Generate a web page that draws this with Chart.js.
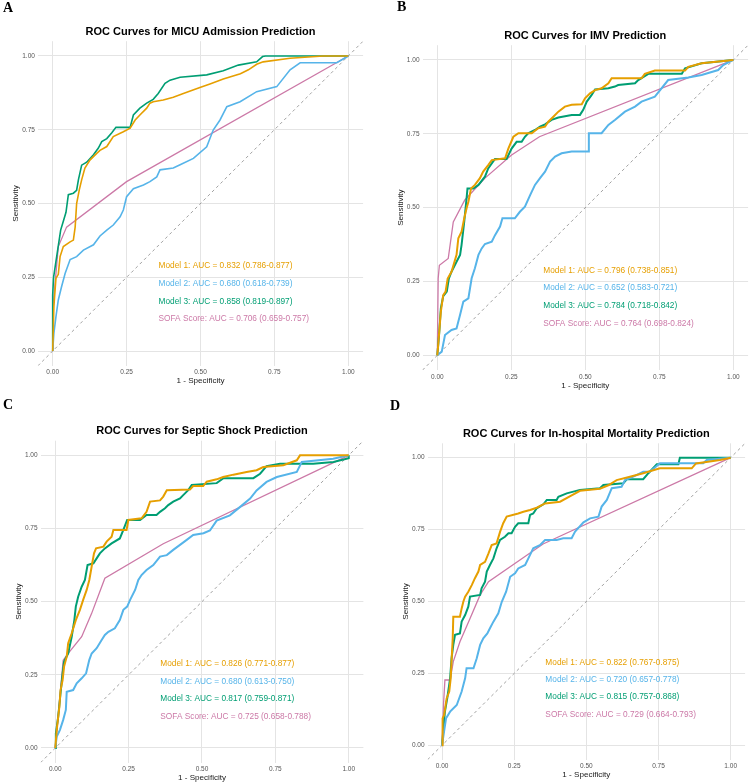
<!DOCTYPE html>
<html>
<head>
<meta charset="utf-8">
<script src="https://cdn.jsdelivr.net/npm/chart.js@4.4.1/dist/chart.umd.min.js"></script>
<style>
  html, body { margin: 0; padding: 0; background: #fff; }
  #wrap { position: relative; width: 750px; height: 784px; background: #fff; }
  #wrap canvas { position: absolute; }
</style>
</head>
<body>
<div id="wrap">
  <canvas id="panelA" width="375" height="392" style="left:0;top:0"></canvas>
  <canvas id="panelB" width="375" height="392" style="left:375px;top:0"></canvas>
  <canvas id="panelC" width="375" height="392" style="left:0;top:392px"></canvas>
  <canvas id="panelD" width="375" height="392" style="left:375px;top:392px"></canvas>
</div>
<script>
// axis ticks shared by every panel
const tickValues = [0, 0.25, 0.5, 0.75, 1];
const tickLabels = ['0.00', '0.25', '0.50', '0.75', '1.00'];

const seriesNames = ['Model 1', 'Model 2', 'Model 3', 'SOFA Score'];
const seriesColors = ['#E69F00', '#56B4E9', '#009E73', '#CC79A7'];

// --- A: MICU admission  ([1 - specificity, sensitivity]) ---
const micuModel1 = [[0,0],[0.004,0.15],[0.011,0.246],[0.019,0.26],[0.025,0.32],[0.036,0.354],[0.059,0.37],[0.07,0.376],[0.076,0.42],[0.081,0.50],[0.09,0.546],[0.098,0.58],[0.109,0.62],[0.126,0.647],[0.149,0.67],[0.16,0.68],[0.183,0.693],[0.205,0.727],[0.239,0.743],[0.262,0.755],[0.279,0.783],[0.295,0.80],[0.318,0.823],[0.329,0.84],[0.34,0.845],[0.374,0.851],[0.408,0.86],[0.442,0.873],[0.498,0.893],[0.532,0.905],[0.577,0.922],[0.635,0.94],[0.662,0.953],[0.69,0.972],[0.712,0.98],[0.803,0.992],[0.915,1],[1,1]];
const micuModel2 = [[0,0],[0.004,0.06],[0.011,0.116],[0.019,0.173],[0.03,0.218],[0.042,0.263],[0.059,0.31],[0.081,0.32],[0.104,0.342],[0.138,0.36],[0.16,0.39],[0.183,0.41],[0.205,0.427],[0.228,0.455],[0.239,0.478],[0.25,0.523],[0.273,0.55],[0.307,0.563],[0.329,0.574],[0.352,0.59],[0.363,0.614],[0.408,0.62],[0.431,0.631],[0.476,0.653],[0.521,0.692],[0.543,0.749],[0.566,0.783],[0.589,0.828],[0.634,0.845],[0.69,0.879],[0.758,0.896],[0.803,0.953],[0.837,0.977],[0.961,0.977],[1,1]];
const micuModel3 = [[0,0],[0,0.19],[0.003,0.25],[0.0135,0.32],[0.027,0.41],[0.036,0.44],[0.045,0.47],[0.053,0.53],[0.07,0.535],[0.081,0.545],[0.087,0.58],[0.098,0.63],[0.115,0.64],[0.138,0.665],[0.154,0.687],[0.166,0.71],[0.183,0.72],[0.2,0.74],[0.214,0.758],[0.262,0.758],[0.273,0.80],[0.295,0.823],[0.318,0.84],[0.34,0.853],[0.357,0.873],[0.38,0.907],[0.397,0.918],[0.431,0.928],[0.521,0.936],[0.577,0.95],[0.628,0.969],[0.69,0.98],[0.71,0.998],[0.72,1],[1,1]];
const micuSofa = [[0,0],[0.003,0.17],[0.019,0.354],[0.047,0.42],[0.25,0.574],[1,1]];
const micuAuc = [0.832, 0.680, 0.858, 0.706];
const micuLow = [0.786, 0.618, 0.819, 0.659];
const micuHigh = [0.877, 0.739, 0.897, 0.757];

// --- B: IMV ---
const imvModel1 = [[0,0],[0.003,0.035],[0.012,0.148],[0.02,0.204],[0.028,0.216],[0.035,0.26],[0.048,0.283],[0.065,0.34],[0.071,0.396],[0.082,0.419],[0.091,0.464],[0.099,0.498],[0.105,0.52],[0.114,0.565],[0.127,0.577],[0.144,0.6],[0.155,0.622],[0.172,0.644],[0.184,0.661],[0.229,0.667],[0.24,0.70],[0.257,0.74],[0.274,0.752],[0.319,0.752],[0.341,0.769],[0.364,0.774],[0.375,0.791],[0.392,0.808],[0.409,0.825],[0.431,0.842],[0.454,0.848],[0.488,0.85],[0.499,0.87],[0.516,0.887],[0.533,0.898],[0.555,0.904],[0.578,0.921],[0.589,0.938],[0.69,0.938],[0.701,0.953],[0.735,0.964],[0.837,0.964],[0.848,0.977],[0.893,0.989],[1,1]];
const imvModel2 = [[0,0],[0.015,0.012],[0.026,0.069],[0.048,0.086],[0.065,0.091],[0.077,0.137],[0.088,0.182],[0.105,0.193],[0.116,0.261],[0.127,0.295],[0.139,0.34],[0.15,0.362],[0.161,0.377],[0.184,0.385],[0.195,0.407],[0.212,0.436],[0.22,0.464],[0.262,0.464],[0.279,0.486],[0.296,0.503],[0.314,0.543],[0.33,0.577],[0.347,0.6],[0.364,0.622],[0.381,0.656],[0.398,0.673],[0.42,0.684],[0.454,0.69],[0.51,0.69],[0.512,0.752],[0.555,0.752],[0.578,0.78],[0.6,0.797],[0.634,0.825],[0.668,0.842],[0.69,0.859],[0.735,0.876],[0.78,0.932],[0.848,0.941],[0.893,0.949],[0.949,0.966],[0.966,0.983],[1,1]];
const imvModel3 = [[0,0],[0.006,0.069],[0.012,0.16],[0.02,0.2],[0.032,0.216],[0.039,0.26],[0.048,0.283],[0.065,0.317],[0.077,0.34],[0.082,0.374],[0.091,0.453],[0.099,0.532],[0.102,0.565],[0.122,0.565],[0.139,0.577],[0.161,0.605],[0.172,0.633],[0.184,0.65],[0.195,0.665],[0.234,0.665],[0.251,0.70],[0.268,0.723],[0.285,0.723],[0.296,0.74],[0.307,0.752],[0.33,0.763],[0.347,0.774],[0.364,0.782],[0.386,0.797],[0.409,0.805],[0.454,0.814],[0.482,0.814],[0.493,0.831],[0.505,0.859],[0.521,0.881],[0.533,0.9],[0.578,0.904],[0.6,0.91],[0.611,0.915],[0.668,0.921],[0.679,0.932],[0.713,0.953],[0.826,0.953],[0.837,0.972],[0.893,0.989],[1,1]];
const imvSofa = [[0,0],[0.003,0.26],[0.007,0.305],[0.037,0.328],[0.054,0.452],[0.093,0.526],[0.161,0.6],[0.251,0.678],[0.345,0.74],[1,1]];
const imvAuc = [0.796, 0.652, 0.784, 0.764];
const imvLow = [0.738, 0.583, 0.718, 0.698];
const imvHigh = [0.851, 0.721, 0.842, 0.824];

// --- C: septic shock ---
const shockModel1 = [[0,0],[0.005,0.062],[0.014,0.141],[0.018,0.198],[0.025,0.232],[0.03,0.278],[0.039,0.312],[0.044,0.358],[0.056,0.392],[0.07,0.437],[0.084,0.472],[0.095,0.506],[0.107,0.54],[0.116,0.574],[0.124,0.62],[0.132,0.665],[0.139,0.682],[0.164,0.688],[0.175,0.705],[0.192,0.722],[0.198,0.745],[0.243,0.745],[0.249,0.779],[0.294,0.785],[0.311,0.807],[0.323,0.842],[0.357,0.846],[0.368,0.859],[0.38,0.881],[0.459,0.883],[0.47,0.895],[0.504,0.895],[0.516,0.91],[0.55,0.918],[0.572,0.926],[0.607,0.934],[0.652,0.943],[0.686,0.949],[0.709,0.96],[0.777,0.966],[0.823,0.983],[0.834,1],[1,1]];
const shockModel2 = [[0,0],[0.005,0.039],[0.016,0.062],[0.027,0.096],[0.036,0.13],[0.039,0.192],[0.061,0.198],[0.073,0.221],[0.09,0.238],[0.105,0.255],[0.116,0.301],[0.124,0.323],[0.141,0.341],[0.158,0.369],[0.169,0.386],[0.181,0.397],[0.203,0.409],[0.22,0.437],[0.232,0.472],[0.245,0.483],[0.255,0.506],[0.272,0.54],[0.283,0.574],[0.294,0.591],[0.311,0.608],[0.334,0.625],[0.357,0.654],[0.38,0.659],[0.402,0.677],[0.425,0.694],[0.448,0.711],[0.47,0.728],[0.505,0.734],[0.527,0.743],[0.55,0.777],[0.595,0.795],[0.629,0.823],[0.664,0.852],[0.686,0.88],[0.72,0.909],[0.755,0.926],[0.823,0.943],[0.84,0.977],[0.947,0.988],[1,1]];
const shockModel3 = [[0,0],[0.002,0.05],[0.01,0.107],[0.018,0.187],[0.025,0.255],[0.03,0.295],[0.044,0.323],[0.056,0.38],[0.065,0.437],[0.07,0.483],[0.078,0.517],[0.09,0.551],[0.101,0.574],[0.11,0.625],[0.13,0.631],[0.141,0.648],[0.152,0.665],[0.169,0.682],[0.192,0.699],[0.22,0.716],[0.232,0.745],[0.245,0.779],[0.289,0.779],[0.311,0.796],[0.345,0.796],[0.357,0.807],[0.374,0.819],[0.385,0.83],[0.402,0.842],[0.425,0.853],[0.436,0.864],[0.453,0.881],[0.465,0.899],[0.55,0.905],[0.573,0.922],[0.675,0.922],[0.698,0.937],[0.72,0.963],[0.766,0.971],[0.879,0.971],[0.948,0.977],[1,0.99],[1,1]];
const shockSofa = [[0,0],[0.027,0.3],[0.044,0.323],[0.09,0.38],[0.124,0.46],[0.169,0.58],[0.368,0.698],[1,1]];
const shockAuc = [0.826, 0.680, 0.817, 0.725];
const shockLow = [0.771, 0.613, 0.759, 0.658];
const shockHigh = [0.877, 0.750, 0.871, 0.788];

// --- D: in-hospital mortality ---
const deathModel1 = [[0,0],[0.002,0.094],[0.007,0.105],[0.016,0.163],[0.025,0.187],[0.03,0.233],[0.037,0.372],[0.039,0.447],[0.062,0.447],[0.068,0.476],[0.074,0.5],[0.08,0.517],[0.091,0.534],[0.103,0.557],[0.114,0.581],[0.126,0.604],[0.132,0.627],[0.149,0.638],[0.161,0.667],[0.172,0.696],[0.189,0.702],[0.201,0.742],[0.212,0.772],[0.224,0.795],[0.264,0.806],[0.282,0.812],[0.305,0.818],[0.328,0.826],[0.357,0.841],[0.409,0.847],[0.449,0.869],[0.478,0.885],[0.547,0.892],[0.576,0.904],[0.605,0.922],[0.651,0.934],[0.697,0.946],[0.755,0.963],[0.865,0.963],[0.88,0.98],[0.963,0.992],[1,1]];
const deathModel2 = [[0,0],[0.007,0.048],[0.014,0.094],[0.028,0.117],[0.051,0.14],[0.068,0.187],[0.08,0.233],[0.085,0.268],[0.109,0.268],[0.12,0.302],[0.132,0.349],[0.143,0.372],[0.157,0.389],[0.166,0.407],[0.178,0.43],[0.195,0.459],[0.207,0.499],[0.222,0.534],[0.236,0.586],[0.253,0.598],[0.264,0.615],[0.288,0.627],[0.305,0.662],[0.316,0.685],[0.339,0.696],[0.357,0.714],[0.397,0.714],[0.42,0.72],[0.449,0.72],[0.461,0.743],[0.49,0.775],[0.513,0.789],[0.542,0.795],[0.553,0.83],[0.571,0.853],[0.588,0.894],[0.622,0.899],[0.634,0.922],[0.663,0.934],[0.697,0.951],[0.72,0.951],[0.755,0.981],[0.905,0.981],[0.917,0.992],[1,1]];
const deathModel3 = [[0,0],[0.005,0.059],[0.01,0.117],[0.018,0.163],[0.028,0.233],[0.033,0.302],[0.039,0.349],[0.045,0.384],[0.062,0.389],[0.068,0.43],[0.08,0.453],[0.091,0.482],[0.097,0.517],[0.132,0.523],[0.137,0.546],[0.149,0.569],[0.155,0.604],[0.166,0.627],[0.178,0.65],[0.189,0.685],[0.201,0.714],[0.218,0.725],[0.23,0.737],[0.241,0.737],[0.253,0.76],[0.264,0.772],[0.299,0.772],[0.305,0.801],[0.316,0.806],[0.328,0.824],[0.351,0.838],[0.363,0.853],[0.397,0.853],[0.403,0.864],[0.432,0.876],[0.478,0.888],[0.547,0.894],[0.559,0.905],[0.628,0.911],[0.64,0.925],[0.697,0.925],[0.715,0.946],[0.744,0.977],[0.819,0.977],[0.824,1],[1,1]];
const deathSofa = [[0,0],[0.005,0.14],[0.01,0.227],[0.028,0.227],[0.039,0.291],[0.062,0.36],[0.097,0.441],[0.132,0.523],[0.161,0.569],[0.35,0.70],[1,1]];
const deathAuc = [0.822, 0.720, 0.815, 0.729];
const deathLow = [0.767, 0.657, 0.757, 0.664];
const deathHigh = [0.875, 0.778, 0.868, 0.793];

const FONT = '"Liberation Sans", Arial, sans-serif';

// panel boxes: plot area edges inside each 375x392 canvas
const panels = [
  { id: 'panelA', letter: 'A', lx: 3, ly: 8, lw: 1.6, title: 'ROC Curves for MICU Admission Prediction',
    curves: [micuModel1, micuModel2, micuModel3, micuSofa], auc: micuAuc, low: micuLow, high: micuHigh,
    box: { left: 37.9, right: 363.1, top: 41.2, bottom: 365.8 } },
  { id: 'panelB', letter: 'B', lx: 22, ly: 7, lw: 2, title: 'ROC Curves for IMV Prediction',
    curves: [imvModel1, imvModel2, imvModel3, imvSofa], auc: imvAuc, low: imvLow, high: imvHigh,
    box: { left: 47.5, right: 373.1, top: 45.2, bottom: 370.1 } },
  { id: 'panelC', letter: 'C', lx: 3, ly: 13, lw: 2, title: 'ROC Curves for Septic Shock Prediction',
    curves: [shockModel1, shockModel2, shockModel3, shockSofa], auc: shockAuc, low: shockLow, high: shockHigh,
    box: { left: 40.6, right: 363.4, top: 48.7, bottom: 370.6 } },
  { id: 'panelD', letter: 'D', lx: 15, ly: 14, lw: 2, title: 'ROC Curves for In-hospital Mortality Prediction',
    curves: [deathModel1, deathModel2, deathModel3, deathSofa], auc: deathAuc, low: deathLow, high: deathHigh,
    box: { left: 52.6, right: 370.1, top: 51.3, bottom: 367.7 } }
];

// titles, panel letters, axis titles and AUC labels
const panelText = {
  id: 'panelText',
  afterDraw(chart, args, opts) {
    const { ctx, chartArea: a, scales: { x, y } } = chart;
    const p = opts.panel;
    ctx.save();
    ctx.textBaseline = 'middle';

    ctx.fillStyle = '#000';
    ctx.textAlign = 'left';
    ctx.font = 'bold 14px "Liberation Serif", "Times New Roman", serif';
    ctx.fillText(p.letter, p.lx, p.ly);

    ctx.textAlign = 'center';
    ctx.font = 'bold 11px ' + FONT;
    ctx.fillText(p.title, (a.left + a.right) / 2, a.top - 9.5);

    ctx.fillStyle = '#1a1a1a';
    ctx.font = '8.1px ' + FONT;
    ctx.fillText('1 - Specificity', x.getPixelForValue(0.5), a.bottom + 15.3);
    ctx.save();
    ctx.translate(a.left - 22, y.getPixelForValue(0.5));
    ctx.rotate(-Math.PI / 2);
    ctx.fillText('Sensitivity', 0, 0);
    ctx.restore();

    ctx.textAlign = 'left';
    ctx.font = '8.3px ' + FONT;
    seriesNames.forEach((name, i) => {
      const label = name + ': AUC = ' + p.auc[i].toFixed(3) +
        ' (' + p.low[i].toFixed(3) + '-' + p.high[i].toFixed(3) + ')';
      ctx.fillStyle = seriesColors[i];
      ctx.fillText(label, x.getPixelForValue(0.358), y.getPixelForValue(0.288 - 0.06 * i));
    });
    ctx.restore();
  }
};

function makeChart(p) {
  const canvas = document.getElementById(p.id);
  const W = canvas.width, H = canvas.height;

  const datasets = p.curves.map((pts, i) => ({
    label: seriesNames[i],
    data: pts.map(([fx, sy]) => ({ x: fx, y: sy })),
    borderColor: seriesColors[i],
    borderWidth: i === 3 ? 1.3 : p.lw,
    pointRadius: 0,
    tension: 0,
    fill: false
  }));
  datasets.push({
    label: 'reference',
    data: [{ x: -0.05, y: -0.05 }, { x: 1.05, y: 1.05 }],
    borderColor: '#8a8a8a',
    borderWidth: 0.8,
    borderDash: [3, 3],
    pointRadius: 0,
    fill: false
  });

  const tickFont = { family: FONT, size: 6.5 };

  return new Chart(canvas, {
    type: 'line',
    data: { datasets },
    plugins: [panelText],
    options: {
      responsive: false,
      animation: false,
      events: [],
      layout: { padding: { left: 0, top: p.box.top, right: W - p.box.right, bottom: 0 } },
      plugins: {
        legend: { display: false },
        tooltip: { enabled: false },
        panelText: { panel: p }
      },
      scales: {
        x: {
          type: 'linear', min: -0.05, max: 1.05,
          afterBuildTicks: s => { s.ticks = tickValues.map(v => ({ value: v })); },
          afterFit: s => { s.height = H - p.box.bottom; },
          ticks: { callback: (v, idx) => tickLabels[idx], font: tickFont, color: '#555', padding: 3, maxRotation: 0, autoSkip: false },
          grid: { color: '#e4e4e4', lineWidth: 1, drawTicks: false },
          border: { display: false }
        },
        y: {
          type: 'linear', min: -0.05, max: 1.05,
          afterBuildTicks: s => { s.ticks = tickValues.map(v => ({ value: v })); },
          afterFit: s => { s.width = p.box.left; },
          ticks: { callback: (v, idx) => tickLabels[idx], font: tickFont, color: '#555', padding: 3, autoSkip: false },
          grid: { color: '#e4e4e4', lineWidth: 1, drawTicks: false },
          border: { display: false }
        }
      }
    }
  });
}

panels.forEach(makeChart);
</script>
</body>
</html>
